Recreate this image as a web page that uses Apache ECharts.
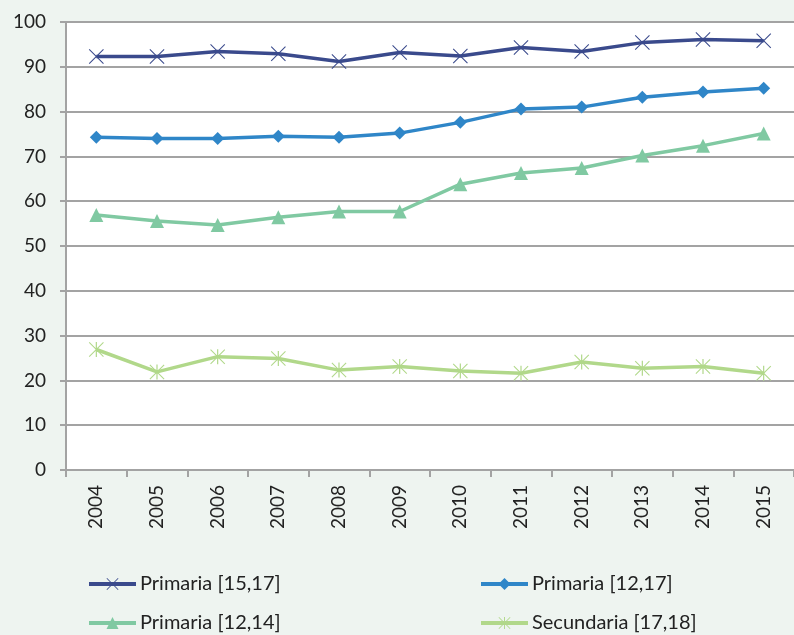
<!DOCTYPE html>
<html>
<head>
<meta charset="utf-8">
<script src="https://cdn.jsdelivr.net/npm/echarts@6/dist/echarts.min.js"></script>
<style>
  html, body { margin: 0; padding: 0; background: #eef4f0; }
  #chart { width: 794px; height: 635px; }
</style>
</head>
<body>
<div id="chart"></div>
<script>
const years = ["2004", "2005", "2006", "2007", "2008", "2009", "2010", "2011", "2012", "2013", "2014", "2015"];
const yTicks = [0, 10, 20, 30, 40, 50, 60, 70, 80, 90, 100];

const primaria1517 = [92.3, 92.3, 93.4, 92.9, 91.2, 93.2, 92.4, 94.3, 93.4, 95.4, 96.1, 95.8];
const primaria1217 = [74.3, 74.0, 74.0, 74.5, 74.3, 75.2, 77.6, 80.6, 81.0, 83.2, 84.4, 85.2];
const primaria1214 = [56.9, 55.6, 54.7, 56.4, 57.7, 57.7, 63.8, 66.3, 67.4, 70.2, 72.4, 75.1];
const secundaria1718 = [26.9, 21.9, 25.3, 24.9, 22.3, 23.1, 22.1, 21.6, 24.1, 22.7, 23.1, 21.6];

const seriesNames = ["Primaria [15,17]", "Primaria [12,17]", "Primaria [12,14]", "Secundaria [17,18]"];
const seriesData = [primaria1517, primaria1217, primaria1214, secundaria1718];
const colors = ["#3a4a8c", "#2f86c8", "#80c9a2", "#b1d88a"];

// marker shapes
const crossPath = "path://M0,1 L1,0 L10,9 L19,0 L20,1 L11,10 L20,19 L19,20 L10,11 L1,20 L0,19 L9,10 Z";
const starPath = crossPath + " M9.2,0 L10.8,0 L10.8,20 L9.2,20 Z";
const symbols = [crossPath, "diamond", "triangle", starPath];
const symbolSizes = [15, 13, 14, 15];

const font = "Lato, 'Open Sans', sans-serif";
const gridGray = "#a3a3a3";

const chart = echarts.init(document.getElementById("chart"));

const legendPos = [
  { left: 87, top: 574 },
  { left: 479, top: 574 },
  { left: 87, top: 613 },
  { left: 479, top: 613 }
];

const option = {
  backgroundColor: "#eef4f0",
  animation: false,
  color: colors,
  textStyle: { fontFamily: font },
  grid: {
    left: 66,
    top: 22,
    right: -8,
    bottom: 165,
    show: true,
    backgroundColor: "#ffffff",
    borderWidth: 0
  },
  legend: seriesNames.map((name, i) => ({
    data: [name],
    left: legendPos[i].left,
    top: legendPos[i].top,
    itemWidth: 47,
    itemHeight: 15,
    padding: 0,
    lineStyle: { width: 4 },
    textStyle: { fontFamily: font, fontSize: 20, color: "#222", padding: [0, 0, 0, -1] }
  })),
  xAxis: {
    type: "category",
    data: years,
    boundaryGap: true,
    axisLine: { lineStyle: { color: gridGray, width: 2 } },
    axisTick: { show: true, length: 7, lineStyle: { color: gridGray, width: 2 } },
    axisLabel: {
      rotate: 90,
      margin: 15,
      fontFamily: font,
      fontSize: 19,
      color: "#222"
    }
  },
  yAxis: {
    type: "value",
    min: yTicks[0],
    max: yTicks[yTicks.length - 1],
    interval: 10,
    axisLine: { show: true, lineStyle: { color: gridGray, width: 2 } },
    axisTick: { show: true, length: 6, lineStyle: { color: gridGray, width: 2 } },
    axisLabel: {
      margin: 20,
      fontFamily: font,
      fontSize: 19,
      color: "#222"
    },
    splitLine: { show: true, lineStyle: { color: gridGray, width: 2 } }
  },
  series: seriesNames.map((name, i) => ({
    name: name,
    type: "line",
    data: seriesData[i],
    symbol: symbols[i],
    symbolSize: symbolSizes[i],
    showAllSymbol: true,
    lineStyle: { width: 3.5, color: colors[i] },
    itemStyle: { color: colors[i] },
    z: 10 - i
  }))
};

chart.setOption(option);
</script>
</body>
</html>
